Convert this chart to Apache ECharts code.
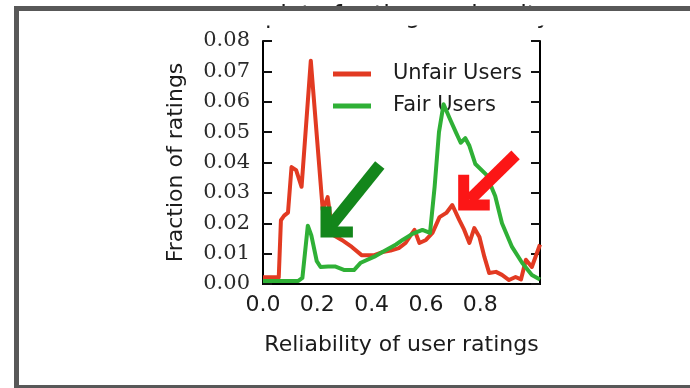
<!DOCTYPE html>
<html>
<head>
<meta charset="utf-8">
<script src="https://cdn.jsdelivr.net/npm/echarts@6/dist/echarts.min.js"></script>
<style>
html,body{margin:0;padding:0;background:#fff;}
#c{width:690px;height:388px;}
</style>
</head>
<body>
<div id="c"></div>
<script>
// ---- data ----
const seriesNames = ['Unfair Users', 'Fair Users'];
const unfairX = [0, 0.058, 0.066, 0.078, 0.092, 0.105, 0.122, 0.142, 0.176, 0.22, 0.238, 0.257, 0.29, 0.327, 0.363, 0.41, 0.44, 0.47, 0.50, 0.525, 0.54, 0.558, 0.576, 0.60, 0.624, 0.65, 0.675, 0.697, 0.723, 0.741, 0.76, 0.778, 0.797, 0.815, 0.833, 0.858, 0.88, 0.906, 0.93, 0.95, 0.968, 0.99, 1.02];
const unfairY = [0.0022, 0.0022, 0.021, 0.0225, 0.0235, 0.0385, 0.0375, 0.032, 0.0735, 0.0244, 0.0286, 0.0162, 0.0145, 0.0122, 0.0095, 0.0095, 0.0105, 0.011, 0.0118, 0.0135, 0.0155, 0.0178, 0.0135, 0.0145, 0.0168, 0.022, 0.0234, 0.026, 0.021, 0.0178, 0.0135, 0.0184, 0.0155, 0.009, 0.0036, 0.004, 0.003, 0.0013, 0.0023, 0.0015, 0.008, 0.0056, 0.013];
const fairX = [0, 0.13, 0.145, 0.165, 0.178, 0.198, 0.212, 0.24, 0.265, 0.30, 0.335, 0.36, 0.41, 0.44, 0.49, 0.514, 0.55, 0.587, 0.615, 0.632, 0.648, 0.665, 0.69, 0.71, 0.728, 0.745, 0.76, 0.782, 0.822, 0.855, 0.88, 0.917, 0.954, 0.99, 1.02];
const fairY = [0.001, 0.001, 0.002, 0.0192, 0.016, 0.0075, 0.0056, 0.0058, 0.0058, 0.0046, 0.0046, 0.007, 0.009, 0.0105, 0.013, 0.0145, 0.0165, 0.0178, 0.0168, 0.032, 0.05, 0.0592, 0.054, 0.05, 0.0465, 0.048, 0.0455, 0.0395, 0.036, 0.029, 0.020, 0.0122, 0.007, 0.003, 0.0015];
const xAxisTitle = 'Reliability of user ratings';
const yAxisTitle = 'Fraction of ratings';
const chartTitle = 'plot of rating vs density';
// annotation arrows in data coordinates: shaft [tail, end], head [arm, corner, arm]
const greenArrowShaft = [[0.43, 0.0392], [0.246, 0.0188]];
const greenArrowHead = [[0.232, 0.0255], [0.232, 0.0171], [0.331, 0.0171]];
const redArrowShaft = [[0.93, 0.0425], [0.761, 0.0277]];
const redArrowHead = [[0.739, 0.036], [0.739, 0.026], [0.835, 0.026]];

const zip = (xs, ys) => xs.map((x, i) => [x, ys[i]]);

const RED = '#e23a22';
const GREEN = '#2fb036';
const INK = '#1c1c1c';

const chart = echarts.init(document.getElementById('c'), null, {renderer: 'canvas'});

const option = {
  animation: false,
  backgroundColor: '#ffffff',
  grid: {left: 263, right: 150, top: 41, bottom: 104, containLabel: false, outerBoundsMode: 'none'},
  legend: {
    data: seriesNames,
    orient: 'vertical',
    left: 328, top: 58,
    icon: 'rect', itemWidth: 38, itemHeight: 5, itemGap: 10,
    textStyle: {fontFamily: 'DejaVu Sans', fontSize: 21, color: INK, lineHeight: 22, padding: [0, 0, 0, 17]}
  },
  xAxis: [{
    type: 'value', min: 0, max: 1.02, interval: 0.2,
    name: xAxisTitle, nameLocation: 'middle', nameGap: 50,
    nameTextStyle: {fontFamily: 'DejaVu Sans', fontSize: 22, color: INK},
    axisLine: {show: true, onZero: false, lineStyle: {color: '#000', width: 2}},
    axisTick: {show: false},
    splitLine: {show: false},
    axisLabel: {margin: 10, fontFamily: 'DejaVu Sans', fontSize: 22, color: INK,
      formatter: v => (v > 0.9 ? '' : v.toFixed(1))}
  }, {
    type: 'value', min: 0, max: 1.02, position: 'top',
    axisLine: {show: true, lineStyle: {color: '#000', width: 2}},
    axisTick: {show: false}, axisLabel: {show: false}, splitLine: {show: false}
  }],
  yAxis: [{
    type: 'value', min: 0, max: 0.08, interval: 0.01,
    name: yAxisTitle, nameLocation: 'middle', nameGap: 76, nameRotate: 90,
    nameTextStyle: {fontFamily: 'DejaVu Sans', fontSize: 22, color: INK},
    axisLine: {show: true, onZero: false, lineStyle: {color: '#000', width: 2}},
    axisTick: {show: true, inside: true, length: 9, lineStyle: {color: '#111', width: 2}},
    splitLine: {show: false},
    axisLabel: {margin: 13, fontFamily: 'DejaVu Serif', fontSize: 21, color: '#2a2a2a',
      formatter: v => v.toFixed(2)}
  }, {
    type: 'value', min: 0, max: 0.08, interval: 0.01, position: 'right',
    axisLine: {show: true, onZero: false, lineStyle: {color: '#000', width: 2}},
    axisTick: {show: true, inside: true, length: 9, lineStyle: {color: '#111', width: 2}},
    axisLabel: {show: false}, splitLine: {show: false}
  }],
  series: [{
    name: seriesNames[0], type: 'line', data: zip(unfairX, unfairY),
    showSymbol: false, symbol: 'none', color: RED,
    lineStyle: {color: RED, width: 4, join: 'round'}, z: 3
  }, {
    name: seriesNames[1], type: 'line', data: zip(fairX, fairY),
    showSymbol: false, symbol: 'none', color: GREEN,
    lineStyle: {color: GREEN, width: 4, join: 'round'}, z: 4
  }]
};
chart.setOption(option);

const toPx = pts => pts.map(p => chart.convertToPixel({xAxisIndex: 0, yAxisIndex: 0}, p));
const arrowEl = (pts, color, w) => ({
  type: 'polyline', z: 50, silent: true,
  shape: {points: toPx(pts)},
  style: {stroke: color, lineWidth: w, fill: null, lineJoin: 'miter', lineCap: 'butt'}
});

chart.setOption({
  graphic: [
    arrowEl(greenArrowShaft, '#13861b', 12),
    arrowEl(greenArrowHead, '#13861b', 11),
    arrowEl(redArrowShaft, '#fc1616', 12),
    arrowEl(redArrowHead, '#fc1616', 11),
    {type: 'text', z: 60, silent: true, x: 265, y: 29,
      style: {text: chartTitle, font: '24px "DejaVu Sans"', fill: INK, verticalAlign: 'bottom', align: 'left'}},
    {type: 'rect', z: 61, silent: true, shape: {x: 19, y: 11, width: 680, height: 14.5},
      style: {fill: '#ffffff'}},
    {type: 'rect', z: 70, silent: true, shape: {x: 16.5, y: 8.5, width: 720, height: 379},
      style: {stroke: '#585858', lineWidth: 5, fill: null}}
  ]
});
</script>
</body>
</html>
